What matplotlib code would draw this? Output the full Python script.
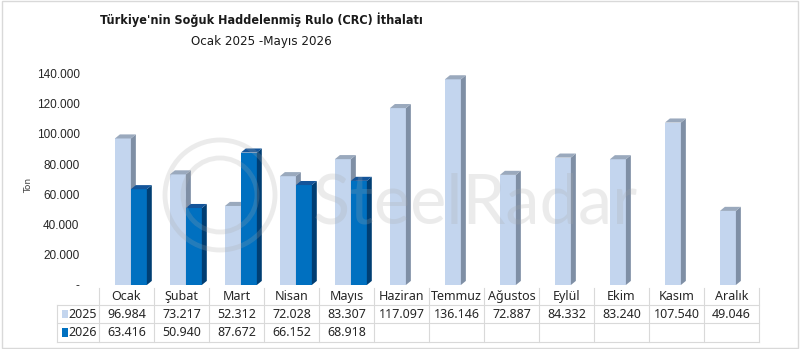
import matplotlib.pyplot as plt
from matplotlib import font_manager
from matplotlib.patches import Polygon, Rectangle, Ellipse
from matplotlib.ticker import FuncFormatter
from matplotlib.transforms import blended_transform_factory

# Data
months = ["Ocak", "Şubat", "Mart", "Nisan", "Mayıs", "Haziran", "Temmuz",
          "Ağustos", "Eylül", "Ekim", "Kasım", "Aralık"]
vals_2025 = [96984, 73217, 52312, 72028, 83307, 117097, 136146,
             72887, 84332, 83240, 107540, 49046]
vals_2026 = [63416, 50940, 87672, 66152, 68918]
series_names = ["2025", "2026"]

title = "Türkiye'nin Soğuk Haddelenmiş Rulo (CRC) İthalatı"
subtitle = "Ocak 2025 -Mayıs 2026"

# Styles: (front, top, side)
light = ("#C3D5EE", "#9AA9BD", "#7F8FA5")
dark = ("#0070C0", "#14559A", "#003E73")

W, DX, DY = 0.29, 0.09, 2700
FW, FH = 800, 349


def fmt(v):
    return f"{v:,.0f}".replace(",", ".")


def fy(py):
    return 1 - py / FH


def bar3d(ax, x0, h, cols):
    front, top, side = cols
    ax.add_patch(Rectangle((x0, 0), W, h, facecolor=front, edgecolor="none", zorder=3))
    ax.add_patch(Polygon([(x0 + W, 0), (x0 + W + DX, DY), (x0 + W + DX, h + DY), (x0 + W, h)],
                         closed=True, facecolor=side, edgecolor="none", zorder=3, clip_on=False))
    ax.add_patch(Polygon([(x0, h), (x0 + DX, h + DY), (x0 + W + DX, h + DY), (x0 + W, h)],
                         closed=True, facecolor=top, edgecolor="none", zorder=3, clip_on=False))


def fit_width(fig, txt, target_px):
    r = fig.canvas.get_renderer()
    w = txt.get_window_extent(r).width
    txt.set_fontsize(txt.get_fontsize() * target_px / w)


def narrow_font():
    # pick a condensed face if one is installed
    for f in font_manager.fontManager.ttflist:
        if "Narrow" in f.name or "Condensed" in f.name or f.stretch in ("condensed", "semi-condensed"):
            return dict(family=f.name, fontstretch=f.stretch)
    return dict(family="Liberation Sans")


fig = plt.figure(figsize=(FW / 100, FH / 100), dpi=100)
fig.patches.append(Rectangle((0.002, 0.003), 0.996, 0.994, transform=fig.transFigure,
                             fill=False, edgecolor="#D9D9D9", linewidth=1))

ax = fig.add_axes([99 / FW, fy(285), 660 / FW, 212 / FH])
ax.patch.set_alpha(0)
ax.set_xlim(-0.5, len(months) - 0.5)
ax.set_ylim(0, 140000 * 212 / 211.5)

for i, v in enumerate(vals_2025):
    bar3d(ax, i - 0.21, v, light)
for i, v in enumerate(vals_2026):
    bar3d(ax, i + 0.08, v, dark)

for s in ax.spines.values():
    s.set_visible(False)
ax.set_xticks([])
ax.set_yticks(range(0, 140001, 20000))
ax.yaxis.set_major_formatter(FuncFormatter(lambda v, p: "-" if v == 0 else fmt(v)))
ax.tick_params(axis="y", length=0, pad=14, labelsize=8.5, labelcolor="#262626")
for lbl in ax.get_yticklabels():
    lbl.set_family("Liberation Sans")
ax.set_ylabel("Ton", fontsize=6.5, color="#404040")
ax.yaxis.set_label_coords(-(99 - 33) / 660, 0.47)

# Watermark (drawn on top, semi-transparent)
wm_col, wm_alpha = "#A8A8A8", 0.22
for r in (55, 37):
    fig.patches.append(Ellipse((220 / FW, fy(195)), 2 * r / FW, 2 * r / FH,
                               transform=fig.transFigure, fill=False, edgecolor=wm_col,
                               alpha=wm_alpha, linewidth=3.5, zorder=10))
wm = fig.text(313 / FW, fy(223), "SteelRadar", fontsize=60, color=wm_col, alpha=wm_alpha,
              family="Lato", zorder=10)
fit_width(fig, wm, 325)

# Data table below the axes
tr = blended_transform_factory(ax.transData, fig.transFigure)
line_kw = dict(color="#D9D9D9", linewidth=0.8, transform=tr, clip_on=False)
n = len(months)
for i in range(n + 1):
    ax.plot([i - 0.5, i - 0.5], [fy(288), fy(342)], **line_kw)
x_left = -0.5 - 42 / 55
for py in (305, 323, 342):
    ax.plot([x_left, n - 0.5], [fy(py), fy(py)], **line_kw)
ax.plot([x_left, x_left], [fy(305), fy(342)], **line_kw)

tkw = dict(transform=tr, ha="center", va="center", fontsize=9, color="#262626",
           family="Noto Sans", clip_on=False)
for i, m in enumerate(months):
    ax.text(i, fy(296.5), m, **tkw)
    ax.text(i, fy(314), fmt(vals_2025[i]), **tkw)
    if i < len(vals_2026):
        ax.text(i, fy(332.5), fmt(vals_2026[i]), **tkw)

for name, col, py in zip(series_names, (light[0], dark[0]), (314, 332.5)):
    ax.add_patch(Rectangle((-0.5 - 37 / 55, fy(py) - 0.0125), 6 / 55, 0.024, transform=tr,
                           facecolor=col, edgecolor="none", clip_on=False))
    ax.text(-0.5 - 2 / 55, fy(py), name, transform=tr, ha="right", va="center",
            fontsize=9, color="#262626", family="Noto Sans", clip_on=False)

hf = narrow_font()
t1 = fig.text(261 / FW, fy(20), title, ha="center", va="center", fontsize=11,
              fontweight="bold", color="#1a1a1a", **hf)
t2 = fig.text(261 / FW, fy(41), subtitle, ha="center", va="center", fontsize=11,
              color="#1a1a1a", **hf)
fit_width(fig, t1, 250)
fit_width(fig, t2, 110)
t1.set_fontsize(max(t1.get_fontsize(), 9))
t2.set_fontsize(max(t2.get_fontsize(), 9.5))

fig.savefig("out.png", dpi=100, facecolor="white")
